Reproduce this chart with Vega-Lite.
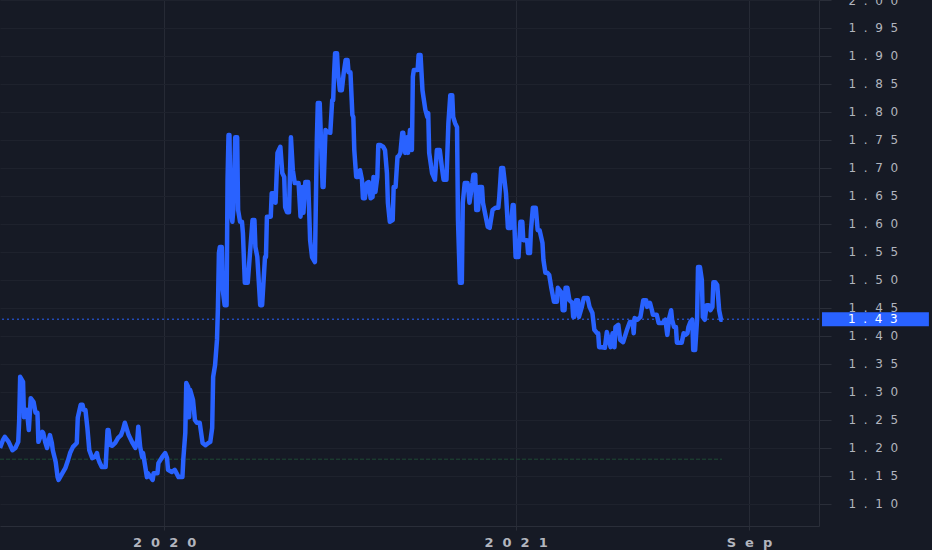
{
  "$schema": "https://vega.github.io/schema/vega-lite/v6.json",
  "width": 819,
  "height": 526,
  "autosize": {"type": "none"},
  "padding": {"left": 0, "top": 0, "right": 113, "bottom": 24},
  "background": "#161a25",
  "config": {
    "view": {"stroke": null},
    "axis": {"labelFont": "DejaVu Sans", "labelColor": "#b2b5be", "labelFontSize": 13, "title": null, "domainColor": "#2a2e39", "tickColor": "#2a2e39", "labelOverlap": false, "labelFlush": false}
  },
  "datasets": {
    "price": [
      {"d":"2019-07-14","v":1.200},{"d":"2019-07-17","v":1.214},{"d":"2019-07-19","v":1.220},{"d":"2019-07-23","v":1.211},{"d":"2019-07-27","v":1.196},{"d":"2019-07-30","v":1.200},
      {"d":"2019-08-02","v":1.211},{"d":"2019-08-03","v":1.250},{"d":"2019-08-04","v":1.327},{"d":"2019-08-07","v":1.318},{"d":"2019-08-08","v":1.255},{"d":"2019-08-11","v":1.268},{"d":"2019-08-13","v":1.232},{"d":"2019-08-15","v":1.289},{"d":"2019-08-18","v":1.282},{"d":"2019-08-20","v":1.263},{"d":"2019-08-22","v":1.263},{"d":"2019-08-23","v":1.211},{"d":"2019-08-27","v":1.229},{"d":"2019-08-28","v":1.227},{"d":"2019-08-30","v":1.211},
      {"d":"2019-09-01","v":1.200},{"d":"2019-09-04","v":1.223},{"d":"2019-09-06","v":1.209},{"d":"2019-09-07","v":1.196},{"d":"2019-09-10","v":1.175},{"d":"2019-09-12","v":1.148},{"d":"2019-09-13","v":1.143},{"d":"2019-09-17","v":1.155},{"d":"2019-09-20","v":1.164},{"d":"2019-09-23","v":1.179},{"d":"2019-09-25","v":1.191},{"d":"2019-09-28","v":1.202},
      {"d":"2019-10-02","v":1.209},{"d":"2019-10-03","v":1.254},{"d":"2019-10-06","v":1.277},{"d":"2019-10-08","v":1.277},{"d":"2019-10-09","v":1.268},{"d":"2019-10-11","v":1.268},{"d":"2019-10-13","v":1.236},{"d":"2019-10-15","v":1.196},{"d":"2019-10-18","v":1.182},{"d":"2019-10-21","v":1.184},{"d":"2019-10-23","v":1.191},{"d":"2019-10-24","v":1.182},{"d":"2019-10-26","v":1.173},{"d":"2019-10-28","v":1.166},
      {"d":"2019-11-01","v":1.166},{"d":"2019-11-03","v":1.232},{"d":"2019-11-04","v":1.232},{"d":"2019-11-06","v":1.205},{"d":"2019-11-08","v":1.204},{"d":"2019-11-11","v":1.209},{"d":"2019-11-14","v":1.218},{"d":"2019-11-17","v":1.223},{"d":"2019-11-19","v":1.232},{"d":"2019-11-21","v":1.245},{"d":"2019-11-25","v":1.223},{"d":"2019-11-29","v":1.209},
      {"d":"2019-12-02","v":1.200},{"d":"2019-12-04","v":1.214},{"d":"2019-12-05","v":1.238},{"d":"2019-12-07","v":1.202},{"d":"2019-12-09","v":1.184},{"d":"2019-12-10","v":1.191},{"d":"2019-12-12","v":1.170},{"d":"2019-12-14","v":1.148},{"d":"2019-12-15","v":1.155},{"d":"2019-12-20","v":1.143},{"d":"2019-12-21","v":1.155},{"d":"2019-12-25","v":1.155},{"d":"2019-12-26","v":1.173},{"d":"2019-12-30","v":1.184},
      {"d":"2020-01-02","v":1.191},{"d":"2020-01-04","v":1.182},{"d":"2020-01-05","v":1.161},{"d":"2020-01-09","v":1.157},{"d":"2020-01-12","v":1.161},{"d":"2020-01-16","v":1.148},{"d":"2020-01-20","v":1.148},{"d":"2020-01-21","v":1.182},{"d":"2020-01-23","v":1.227},{"d":"2020-01-24","v":1.316},{"d":"2020-01-26","v":1.309},{"d":"2020-01-27","v":1.255},{"d":"2020-01-28","v":1.304},{"d":"2020-01-31","v":1.286},
      {"d":"2020-02-02","v":1.250},{"d":"2020-02-04","v":1.245},{"d":"2020-02-07","v":1.245},{"d":"2020-02-10","v":1.209},{"d":"2020-02-13","v":1.205},{"d":"2020-02-16","v":1.209},{"d":"2020-02-18","v":1.211},{"d":"2020-02-20","v":1.236},{"d":"2020-02-21","v":1.327},{"d":"2020-02-23","v":1.348},{"d":"2020-02-25","v":1.393},{"d":"2020-02-26","v":1.452},{"d":"2020-02-27","v":1.548},{"d":"2020-02-28","v":1.559},
      {"d":"2020-03-01","v":1.559},{"d":"2020-03-02","v":1.482},{"d":"2020-03-04","v":1.455},{"d":"2020-03-06","v":1.455},{"d":"2020-03-07","v":1.679},{"d":"2020-03-08","v":1.759},{"d":"2020-03-09","v":1.759},{"d":"2020-03-10","v":1.625},{"d":"2020-03-12","v":1.604},{"d":"2020-03-13","v":1.625},{"d":"2020-03-15","v":1.755},{"d":"2020-03-17","v":1.755},{"d":"2020-03-18","v":1.625},{"d":"2020-03-20","v":1.604},{"d":"2020-03-22","v":1.604},{"d":"2020-03-23","v":1.584},{"d":"2020-03-25","v":1.495},{"d":"2020-03-28","v":1.495},
      {"d":"2020-04-02","v":1.607},{"d":"2020-04-04","v":1.607},{"d":"2020-04-05","v":1.559},{"d":"2020-04-07","v":1.541},{"d":"2020-04-10","v":1.455},{"d":"2020-04-12","v":1.455},{"d":"2020-04-15","v":1.541},{"d":"2020-04-16","v":1.541},{"d":"2020-04-17","v":1.613},{"d":"2020-04-21","v":1.613},{"d":"2020-04-22","v":1.655},{"d":"2020-04-25","v":1.655},{"d":"2020-04-26","v":1.638},{"d":"2020-04-28","v":1.727},
      {"d":"2020-05-01","v":1.738},{"d":"2020-05-03","v":1.691},{"d":"2020-05-05","v":1.684},{"d":"2020-05-06","v":1.630},{"d":"2020-05-08","v":1.621},{"d":"2020-05-10","v":1.621},{"d":"2020-05-12","v":1.755},{"d":"2020-05-14","v":1.696},{"d":"2020-05-16","v":1.673},{"d":"2020-05-20","v":1.673},{"d":"2020-05-22","v":1.613},{"d":"2020-05-24","v":1.666},{"d":"2020-05-25","v":1.620},{"d":"2020-05-27","v":1.675},{"d":"2020-05-30","v":1.675},
      {"d":"2020-06-01","v":1.571},{"d":"2020-06-03","v":1.541},{"d":"2020-06-06","v":1.532},{"d":"2020-06-08","v":1.750},{"d":"2020-06-09","v":1.816},{"d":"2020-06-11","v":1.816},{"d":"2020-06-14","v":1.666},{"d":"2020-06-15","v":1.666},{"d":"2020-06-17","v":1.768},{"d":"2020-06-19","v":1.764},{"d":"2020-06-22","v":1.763},{"d":"2020-06-24","v":1.821},{"d":"2020-06-25","v":1.821},{"d":"2020-06-26","v":1.870},{"d":"2020-06-27","v":1.905},{"d":"2020-06-29","v":1.905},{"d":"2020-06-30","v":1.870},
      {"d":"2020-07-02","v":1.839},{"d":"2020-07-04","v":1.839},{"d":"2020-07-06","v":1.870},{"d":"2020-07-08","v":1.893},{"d":"2020-07-10","v":1.893},{"d":"2020-07-11","v":1.871},{"d":"2020-07-13","v":1.871},{"d":"2020-07-15","v":1.795},{"d":"2020-07-16","v":1.791},{"d":"2020-07-17","v":1.732},{"d":"2020-07-19","v":1.684},{"d":"2020-07-21","v":1.684},{"d":"2020-07-23","v":1.696},{"d":"2020-07-25","v":1.679},{"d":"2020-07-26","v":1.646},{"d":"2020-07-28","v":1.646},{"d":"2020-07-30","v":1.673},
      {"d":"2020-08-01","v":1.675},{"d":"2020-08-03","v":1.646},{"d":"2020-08-05","v":1.648},{"d":"2020-08-06","v":1.684},{"d":"2020-08-08","v":1.657},{"d":"2020-08-10","v":1.684},{"d":"2020-08-11","v":1.741},{"d":"2020-08-13","v":1.741},{"d":"2020-08-16","v":1.738},{"d":"2020-08-18","v":1.732},{"d":"2020-08-20","v":1.691},{"d":"2020-08-21","v":1.638},{"d":"2020-08-23","v":1.604},{"d":"2020-08-26","v":1.607},{"d":"2020-08-27","v":1.666},{"d":"2020-08-29","v":1.666},{"d":"2020-08-31","v":1.720},
      {"d":"2020-09-01","v":1.720},{"d":"2020-09-03","v":1.727},{"d":"2020-09-05","v":1.763},{"d":"2020-09-06","v":1.763},{"d":"2020-09-08","v":1.727},{"d":"2020-09-10","v":1.755},{"d":"2020-09-11","v":1.727},{"d":"2020-09-13","v":1.768},{"d":"2020-09-15","v":1.732},{"d":"2020-09-16","v":1.863},{"d":"2020-09-17","v":1.875},{"d":"2020-09-21","v":1.875},{"d":"2020-09-22","v":1.902},{"d":"2020-09-24","v":1.902},{"d":"2020-09-26","v":1.839},{"d":"2020-09-27","v":1.827},{"d":"2020-09-29","v":1.804},
      {"d":"2020-10-01","v":1.791},{"d":"2020-10-02","v":1.798},{"d":"2020-10-03","v":1.727},{"d":"2020-10-06","v":1.691},{"d":"2020-10-09","v":1.679},{"d":"2020-10-11","v":1.732},{"d":"2020-10-14","v":1.732},{"d":"2020-10-17","v":1.691},{"d":"2020-10-18","v":1.679},{"d":"2020-10-21","v":1.679},{"d":"2020-10-23","v":1.780},{"d":"2020-10-25","v":1.830},{"d":"2020-10-27","v":1.830},{"d":"2020-10-28","v":1.791},{"d":"2020-10-30","v":1.780},
      {"d":"2020-11-01","v":1.773},{"d":"2020-11-02","v":1.607},{"d":"2020-11-04","v":1.495},{"d":"2020-11-06","v":1.495},{"d":"2020-11-07","v":1.638},{"d":"2020-11-09","v":1.673},{"d":"2020-11-12","v":1.673},{"d":"2020-11-14","v":1.638},{"d":"2020-11-17","v":1.673},{"d":"2020-11-18","v":1.688},{"d":"2020-11-20","v":1.688},{"d":"2020-11-21","v":1.625},{"d":"2020-11-23","v":1.625},{"d":"2020-11-24","v":1.666},{"d":"2020-11-27","v":1.666},{"d":"2020-11-28","v":1.638},
      {"d":"2020-12-03","v":1.595},{"d":"2020-12-05","v":1.593},{"d":"2020-12-08","v":1.625},{"d":"2020-12-11","v":1.629},{"d":"2020-12-14","v":1.629},{"d":"2020-12-15","v":1.648},{"d":"2020-12-17","v":1.700},{"d":"2020-12-19","v":1.700},{"d":"2020-12-22","v":1.655},{"d":"2020-12-24","v":1.593},{"d":"2020-12-27","v":1.593},{"d":"2020-12-29","v":1.634},{"d":"2020-12-30","v":1.634},
      {"d":"2021-01-01","v":1.541},{"d":"2021-01-04","v":1.541},{"d":"2021-01-06","v":1.604},{"d":"2021-01-08","v":1.604},{"d":"2021-01-09","v":1.571},{"d":"2021-01-13","v":1.571},{"d":"2021-01-14","v":1.548},{"d":"2021-01-16","v":1.548},{"d":"2021-01-17","v":1.589},{"d":"2021-01-19","v":1.629},{"d":"2021-01-22","v":1.629},{"d":"2021-01-24","v":1.589},{"d":"2021-01-26","v":1.589},{"d":"2021-01-29","v":1.566},{"d":"2021-01-30","v":1.536},
      {"d":"2021-02-01","v":1.513},{"d":"2021-02-03","v":1.513},{"d":"2021-02-05","v":1.509},{"d":"2021-02-07","v":1.488},{"d":"2021-02-10","v":1.461},{"d":"2021-02-13","v":1.461},{"d":"2021-02-14","v":1.486},{"d":"2021-02-18","v":1.477},{"d":"2021-02-19","v":1.446},{"d":"2021-02-21","v":1.446},{"d":"2021-02-22","v":1.486},{"d":"2021-02-24","v":1.486},{"d":"2021-02-26","v":1.464},
      {"d":"2021-03-01","v":1.459},{"d":"2021-03-02","v":1.434},{"d":"2021-03-03","v":1.434},{"d":"2021-03-05","v":1.464},{"d":"2021-03-07","v":1.464},{"d":"2021-03-08","v":1.434},{"d":"2021-03-11","v":1.452},{"d":"2021-03-13","v":1.468},{"d":"2021-03-17","v":1.468},{"d":"2021-03-19","v":1.452},{"d":"2021-03-22","v":1.441},{"d":"2021-03-24","v":1.411},{"d":"2021-03-27","v":1.405},{"d":"2021-03-28","v":1.405},{"d":"2021-03-29","v":1.380},
      {"d":"2021-04-01","v":1.380},{"d":"2021-04-04","v":1.379},{"d":"2021-04-06","v":1.407},{"d":"2021-04-08","v":1.393},{"d":"2021-04-10","v":1.380},{"d":"2021-04-12","v":1.405},{"d":"2021-04-14","v":1.380},{"d":"2021-04-15","v":1.416},{"d":"2021-04-18","v":1.420},{"d":"2021-04-20","v":1.393},{"d":"2021-04-23","v":1.389},{"d":"2021-04-27","v":1.411},{"d":"2021-04-30","v":1.425},
      {"d":"2021-05-03","v":1.425},{"d":"2021-05-04","v":1.405},{"d":"2021-05-05","v":1.432},{"d":"2021-05-08","v":1.429},{"d":"2021-05-11","v":1.434},{"d":"2021-05-14","v":1.464},{"d":"2021-05-17","v":1.464},{"d":"2021-05-18","v":1.452},{"d":"2021-05-21","v":1.459},{"d":"2021-05-23","v":1.446},{"d":"2021-05-24","v":1.438},{"d":"2021-05-28","v":1.438},{"d":"2021-05-30","v":1.423},
      {"d":"2021-06-03","v":1.423},{"d":"2021-06-06","v":1.429},{"d":"2021-06-08","v":1.402},{"d":"2021-06-10","v":1.432},{"d":"2021-06-12","v":1.446},{"d":"2021-06-13","v":1.429},{"d":"2021-06-15","v":1.416},{"d":"2021-06-17","v":1.416},{"d":"2021-06-18","v":1.388},{"d":"2021-06-23","v":1.388},{"d":"2021-06-25","v":1.405},{"d":"2021-06-27","v":1.402},{"d":"2021-06-29","v":1.405},{"d":"2021-06-30","v":1.416},
      {"d":"2021-07-02","v":1.425},{"d":"2021-07-04","v":1.429},{"d":"2021-07-05","v":1.375},{"d":"2021-07-07","v":1.375},{"d":"2021-07-09","v":1.429},{"d":"2021-07-10","v":1.523},{"d":"2021-07-12","v":1.523},{"d":"2021-07-14","v":1.500},{"d":"2021-07-15","v":1.434},{"d":"2021-07-17","v":1.429},{"d":"2021-07-19","v":1.455},{"d":"2021-07-21","v":1.455},{"d":"2021-07-23","v":1.446},{"d":"2021-07-25","v":1.452},{"d":"2021-07-26","v":1.496},{"d":"2021-07-28","v":1.496},{"d":"2021-07-30","v":1.491},
      {"d":"2021-08-01","v":1.446},{"d":"2021-08-03","v":1.429},{"d":"2021-08-04","v":1.430}
    ],
    "ref": [{"start": "2019-07-14", "end": "2021-08-04", "level": 1.18}],
    "last": [{"d": "2021-08-04", "v": 1.43}]
  },
  "layer": [
    {
      "data": {"name": "ref"},
      "mark": {"type": "rule", "color": "#1f4a35", "strokeWidth": 1, "strokeDash": [4, 2]},
      "encoding": {
        "x": {"field": "start", "type": "temporal",
          "scale": {"type": "utc", "domain": [{"year": 2019, "month": 7, "date": 14, "utc": true}, {"year": 2021, "month": 11, "date": 13, "utc": true}]},
          "axis": {
            "values": [{"year": 2020, "month": 1, "date": 1, "utc": true}, {"year": 2021, "month": 1, "date": 1, "utc": true}, {"year": 2021, "month": 9, "date": 1, "utc": true}],
            "labelExpr": "replace(utcmonth(datum.value) == 0 ? utcFormat(datum.value, '%Y') : utcFormat(datum.value, '%b'), regexp('(.)(?=.)', 'g'), '$1\u2007')",
            "labelFontWeight": "bold", "gridColor": "#262a35", "tickSize": 4, "labelPadding": 6, "labelOverlap": false, "tickCount": 10
          }},
        "x2": {"field": "end"},
        "y": {"field": "level", "type": "quantitative",
          "scale": {"domain": [1.0607, 2.0], "zero": false, "nice": false},
          "axis": {
            "orient": "right",
            "values": [1.10, 1.15, 1.20, 1.25, 1.30, 1.35, 1.40, 1.45, 1.50, 1.55, 1.60, 1.65, 1.70, 1.75, 1.80, 1.85, 1.90, 1.95, 2.00],
            "tickCount": 40,
            "labelExpr": "replace(format(datum.value, '.2f'), regexp('(.)(?=.)', 'g'), '$1\u2007')",
            "labelOverlap": false,
            "labelSeparation": 0,
            "labelFontSize": 12,
            "gridColor": "#1e222d", "tickSize": 12, "labelPadding": 17
          }}
      }
    },
    {
      "data": {"name": "price"},
      "mark": {"type": "line", "color": "#2962ff", "strokeWidth": 4.5, "strokeJoin": "round", "clip": true},
      "encoding": {
        "x": {"field": "d", "type": "temporal"},
        "y": {"field": "v", "type": "quantitative"}
      }
    },
    {
      "data": {"name": "last"},
      "mark": {"type": "rule", "color": "#2962ff", "strokeWidth": 1, "strokeDash": [2, 3]},
      "encoding": {
        "y": {"field": "v", "type": "quantitative"}
      }
    },
    {
      "data": {"name": "last"},
      "mark": {"type": "point", "shape": "M0.43,-1L15.7,-1L15.7,1L0.43,1Z", "size": 196, "filled": true, "fill": "#2962ff", "opacity": 1, "strokeWidth": 0, "clip": false},
      "encoding": {
        "x": {"datum": {"year": 2021, "month": 11, "date": 13, "utc": true}, "type": "temporal"},
        "y": {"field": "v", "type": "quantitative"}
      }
    },
    {
      "data": {"name": "last"},
      "mark": {"type": "text", "text": "1\u2007.\u20074\u20073", "dx": 29, "align": "left", "baseline": "middle", "color": "#ffffff", "font": "DejaVu Sans", "fontSize": 12, "clip": false},
      "encoding": {
        "x": {"datum": {"year": 2021, "month": 11, "date": 13, "utc": true}, "type": "temporal"},
        "y": {"field": "v", "type": "quantitative"}
      }
    }
  ]
}
